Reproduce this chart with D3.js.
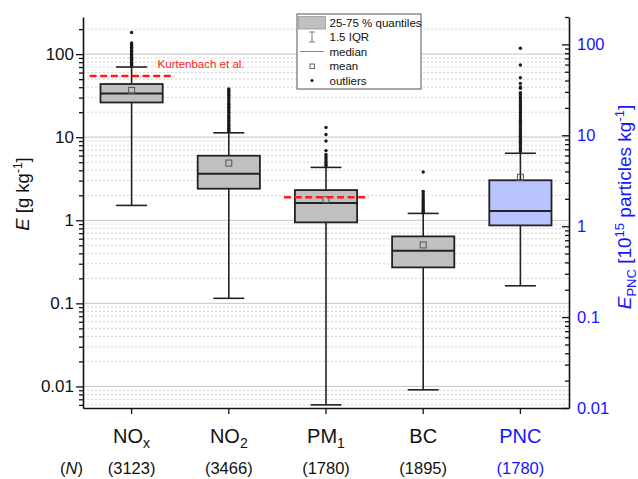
<!DOCTYPE html>
<html>
<head>
<meta charset="utf-8">
<script src="https://cdn.jsdelivr.net/npm/d3@7/dist/d3.min.js"></script>
<style>
  html, body { margin: 0; padding: 0; background: #fff; }
  svg { display: block; font-family: "Liberation Sans", Arial, sans-serif; }
</style>
</head>
<body>
<svg id="chart" width="638" height="479"></svg>
<script>
// ---- data -------------------------------------------------------------
const categories = ["NOx", "NO2", "PM1", "BC", "PNC"];
const catMain = ["NO", "NO", "PM", "BC", "PNC"];
const catSub = ["x", "2", "1", "", ""];
const counts = [3123, 3466, 1780, 1895, 1780];

// box statistics (PNC is read on the right-hand axis)
const q1 = [26.2, 2.40, 0.944, 0.271, 1.02];
const median = [33.7, 3.64, 1.61, 0.431, 1.47];
const q3 = [43.7, 5.99, 2.31, 0.640, 3.20];
const mean = [36.6, 4.89, 1.77, 0.505, 3.45];
const whiskerLow = [1.51, 0.115, 0.0060, 0.0091, 0.221];
const whiskerHigh = [70, 11.3, 4.33, 1.21, 6.34];

const outliersNOx = [182, 136, 131, 126, 121, 116, 111, 107, 103, 99, 95, 92, 89, 86, 83, 80, 78, 76, 74, 72];
const outliersNO2 = [38, 36.5, 35, 33.5, 32, 30.5, 29, 27.5, 26, 25, 24, 23, 22, 21, 20, 19, 18.2, 17.4,
                     16.6, 15.9, 15.2, 14.5, 13.9, 13.3, 12.8, 12.3, 11.8];
const outliersPM1 = [13.1, 10.8, 9.0, 6.9, 6.2, 5.8, 5.5, 5.2, 4.95, 4.7, 4.5];
const outliersBC = [3.81, 2.23, 2.1, 1.98, 1.87, 1.77, 1.68, 1.6, 1.52, 1.45, 1.38, 1.32, 1.27, 1.23];
const outliersPNC = [90.6, 59.3, 43, 37.2, 34, 32.9, 29.4, 28, 26.6, 25.3, 24, 22.8, 21.7, 20.6, 19.6,
                     18.6, 17.7, 16.8, 16, 15.2, 14.5, 13.8, 13.1, 12.4, 11.8, 11.2, 10.7, 10.2, 9.7,
                     9.2, 8.8, 8.4, 8.0, 7.6, 7.2, 6.9, 6.6];
const outliers = [outliersNOx, outliersNO2, outliersPM1, outliersBC, outliersPNC];

// literature reference values (Kurtenbach et al.)
const refCategories = ["NOx", "PM1"];
const refValues = [54.5, 1.89];
const refLabel = "Kurtenbach et al.";

const leftTicks = [0.01, 0.1, 1, 10, 100];
const rightTicks = [0.01, 0.1, 1, 10, 100];

// ---- layout -----------------------------------------------------------
const svg = d3.select("#chart");
const X0 = 83, X1 = 569, Y0 = 17, Y1 = 408;
const BLUE = "#1414ff";
const RED = "#ff1a1a";

const x = d3.scaleBand().domain(categories).range([X0, X1]).padding(0);
const cx = c => x(c) + x.bandwidth() / 2;
const yL = d3.scaleLog().domain([0.0055, 280]).range([Y1, Y0]);
const yR = d3.scaleLog().domain([0.01, 200]).range([Y1, Y0]);
const yFor = i => (categories[i] === "PNC" ? yR : yL);

function minorValues(scale) {
  const [lo, hi] = scale.domain();
  const vals = [];
  for (let e = -4; e <= 3; e++) {
    for (let m = 2; m <= 9; m++) {
      const v = m * Math.pow(10, e);
      if (v >= lo && v <= hi) vals.push(+v.toPrecision(3));
    }
  }
  return vals;
}
const fmt = d => String(d);

// ---- grid -------------------------------------------------------------
const grid = svg.append("g");
grid.selectAll("line.minor").data(minorValues(yL)).join("line")
  .attr("x1", X0).attr("x2", X1)
  .attr("y1", d => yL(d)).attr("y2", d => yL(d))
  .attr("stroke", "#d4d4d4").attr("stroke-width", 1).attr("stroke-dasharray", "2,2");
grid.selectAll("line.major").data(leftTicks).join("line")
  .attr("x1", X0).attr("x2", X1)
  .attr("y1", d => yL(d)).attr("y2", d => yL(d))
  .attr("stroke", "#d0d0d0").attr("stroke-width", 1.3);

// ---- boxes ------------------------------------------------------------
const boxW = x.bandwidth() * 0.64;
const capW = 31;
const boxes = svg.append("g");
categories.forEach((c, i) => {
  const y = yFor(i);
  const g = boxes.append("g");
  const xc = cx(c);
  // whiskers
  g.append("line").attr("x1", xc).attr("x2", xc)
    .attr("y1", y(whiskerHigh[i])).attr("y2", y(q3[i]))
    .attr("stroke", "#222").attr("stroke-width", 1.6);
  g.append("line").attr("x1", xc).attr("x2", xc)
    .attr("y1", y(q1[i])).attr("y2", y(whiskerLow[i]))
    .attr("stroke", "#222").attr("stroke-width", 1.6);
  [whiskerHigh[i], whiskerLow[i]].forEach(v => {
    g.append("line").attr("x1", xc - capW / 2).attr("x2", xc + capW / 2)
      .attr("y1", y(v)).attr("y2", y(v))
      .attr("stroke", "#222").attr("stroke-width", 1.6);
  });
  // outliers
  g.selectAll("circle").data(outliers[i]).join("circle")
    .attr("cx", xc).attr("cy", d => y(d)).attr("r", 1.7)
    .attr("fill", "#1a1a1a");
  // box
  g.append("rect")
    .attr("x", xc - boxW / 2).attr("width", boxW)
    .attr("y", y(q3[i])).attr("height", y(q1[i]) - y(q3[i]))
    .attr("fill", c === "PNC" ? "#b9c3ff" : "#c0c0c0")
    .attr("stroke", "#222").attr("stroke-width", 1.8);
  g.append("line")
    .attr("x1", xc - boxW / 2).attr("x2", xc + boxW / 2)
    .attr("y1", y(median[i])).attr("y2", y(median[i]))
    .attr("stroke", "#222").attr("stroke-width", 2);
  g.append("rect")
    .attr("x", xc - 3).attr("y", y(mean[i]) - 3)
    .attr("width", 6).attr("height", 6)
    .attr("fill", "none").attr("stroke", "#555").attr("stroke-width", 1);
});

// ---- reference lines --------------------------------------------------
refCategories.forEach((c, k) => {
  const xc = cx(c);
  svg.append("line")
    .attr("x1", xc - 42).attr("x2", xc + 43)
    .attr("y1", yL(refValues[k])).attr("y2", yL(refValues[k]))
    .attr("stroke", RED).attr("stroke-width", 2.4)
    .attr("stroke-dasharray", "7,3.6");
});
svg.append("text")
  .attr("x", cx("NOx") + 26).attr("y", yL(refValues[0]) - 8)
  .attr("font-size", 11.5).attr("fill", RED)
  .text(refLabel);

// ---- axes -------------------------------------------------------------
const axisLeft = svg.append("g").attr("transform", `translate(${X0},0)`)
  .call(d3.axisLeft(yL).tickValues(leftTicks).tickFormat(fmt).tickSizeInner(7).tickSizeOuter(0).tickPadding(2));
svg.append("g").attr("transform", `translate(${X0},0)`)
  .call(d3.axisLeft(yL).tickValues(minorValues(yL)).tickFormat("").tickSizeInner(4).tickSizeOuter(0))
  .select(".domain").remove();
axisLeft.selectAll("text").attr("font-size", 17).attr("fill", "#111");

const axisRight = svg.append("g").attr("transform", `translate(${X1},0)`)
  .call(d3.axisRight(yR).tickValues(rightTicks).tickFormat(fmt).tickSizeInner(-7).tickSizeOuter(0).tickPadding(8));
svg.append("g").attr("transform", `translate(${X1},0)`)
  .call(d3.axisRight(yR).tickValues(minorValues(yR)).tickFormat("").tickSizeInner(-4).tickSizeOuter(0))
  .select(".domain").remove();
axisRight.selectAll("text").attr("font-size", 16.5).attr("fill", BLUE);

svg.append("g").attr("transform", `translate(0,${Y1})`)
  .call(d3.axisBottom(x).tickSizeInner(6).tickSizeOuter(0).tickFormat(""));

svg.selectAll(".domain").attr("stroke", "#111").attr("stroke-width", 1.6);
svg.selectAll(".tick line").attr("stroke", "#111").attr("stroke-width", 1.3);

// ---- category labels --------------------------------------------------
categories.forEach((c, i) => {
  const t = svg.append("text")
    .attr("x", cx(c)).attr("y", 443)
    .attr("text-anchor", "middle").attr("font-size", 20)
    .attr("fill", c === "PNC" ? BLUE : "#111");
  t.append("tspan").text(catMain[i]);
  if (catSub[i]) t.append("tspan").attr("dy", 5).attr("font-size", 14).text(catSub[i]);
  svg.append("text")
    .attr("x", cx(c)).attr("y", 474)
    .attr("text-anchor", "middle").attr("font-size", 16.5)
    .attr("fill", c === "PNC" ? BLUE : "#111")
    .text(`(${counts[i]})`);
});
const nLab = svg.append("text").attr("x", 71.5).attr("y", 474)
  .attr("text-anchor", "middle").attr("font-size", 16.5).attr("fill", "#111");
nLab.append("tspan").text("(");
nLab.append("tspan").attr("font-style", "italic").text("N");
nLab.append("tspan").text(")");

// ---- axis titles ------------------------------------------------------
const lt = svg.append("text")
  .attr("transform", "translate(29,194) rotate(-90)")
  .attr("text-anchor", "middle").attr("font-size", 18.5).attr("fill", "#111");
lt.append("tspan").attr("font-style", "italic").text("E");
lt.append("tspan").text(" [g kg");
lt.append("tspan").attr("dy", -7).attr("font-size", 12).text("-1");
lt.append("tspan").attr("dy", 7).text("]");

const rt = svg.append("text")
  .attr("transform", "translate(631,207) rotate(-90)")
  .attr("text-anchor", "middle").attr("font-size", 19).attr("fill", BLUE);
rt.append("tspan").attr("font-style", "italic").text("E");
rt.append("tspan").attr("dy", 5).attr("font-size", 13).text("PNC");
rt.append("tspan").attr("dy", -5).text(" [10");
rt.append("tspan").attr("dy", -7).attr("font-size", 13).text("15");
rt.append("tspan").attr("dy", 7).text(" particles kg");
rt.append("tspan").attr("dy", -7).attr("font-size", 13).text("-1");
rt.append("tspan").attr("dy", 7).text("]");

// ---- legend -----------------------------------------------------------
const lg = svg.append("g");
lg.append("rect").attr("x", 297).attr("y", 14).attr("width", 124).attr("height", 75)
  .attr("fill", "#fff").attr("stroke", "#555").attr("stroke-width", 1);
const legendRows = ["25-75 % quantiles", "1.5 IQR", "median", "mean", "outliers"];
const rowY = [22.5, 37, 51.5, 66, 80.5];
const sx = 312;
lg.append("rect").attr("x", 298.5).attr("y", 16.5).attr("width", 27).attr("height", 12.5)
  .attr("fill", "#c0c0c0").attr("stroke", "#999").attr("stroke-width", 0.8);
lg.append("line").attr("x1", sx).attr("x2", sx).attr("y1", rowY[1] - 5).attr("y2", rowY[1] + 5)
  .attr("stroke", "#777").attr("stroke-width", 1);
[rowY[1] - 5, rowY[1] + 5].forEach(yy => lg.append("line")
  .attr("x1", sx - 3).attr("x2", sx + 3).attr("y1", yy).attr("y2", yy)
  .attr("stroke", "#777").attr("stroke-width", 1));
lg.append("line").attr("x1", 300).attr("x2", 324).attr("y1", rowY[2]).attr("y2", rowY[2])
  .attr("stroke", "#888").attr("stroke-width", 1);
lg.append("rect").attr("x", sx - 2).attr("y", rowY[3] - 2).attr("width", 4.5).attr("height", 4.5)
  .attr("fill", "none").attr("stroke", "#555").attr("stroke-width", 0.9);
lg.append("circle").attr("cx", sx).attr("cy", rowY[4]).attr("r", 1.5).attr("fill", "#111");
lg.selectAll("text.row").data(legendRows).join("text")
  .attr("x", 329.5).attr("y", (d, i) => rowY[i] + 4)
  .attr("font-size", 11.5).attr("fill", "#111")
  .text(d => d);
</script>
</body>
</html>
